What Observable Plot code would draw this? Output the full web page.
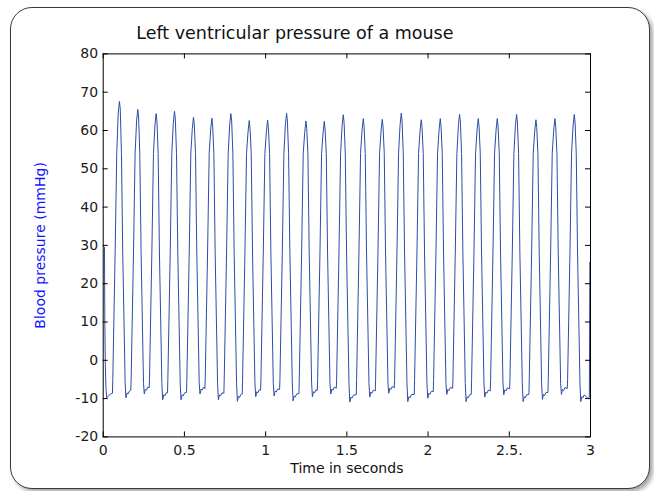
<!DOCTYPE html>
<html>
<head>
<meta charset="utf-8">
<script src="https://cdn.jsdelivr.net/npm/d3@7"></script>
<script src="https://cdn.jsdelivr.net/npm/@observablehq/plot@0.6"></script>
<style>
  html, body { margin: 0; padding: 0; background: #ffffff; }
  body { width: 654px; height: 491px; overflow: hidden; position: relative; font-family: "DejaVu Sans", sans-serif; }
  #box { position: absolute; left: 10px; top: 7px; width: 640px; height: 482px; box-sizing: border-box;
         border: 1px solid #3a3a3a; border-radius: 22px; box-shadow: 3px 3px 4px rgba(0,0,0,0.35); background: #fff; }
  #chart { position: absolute; left: 0; top: 0; }
</style>
</head>
<body>
<div id="box"></div>
<div id="chart"></div>
<script>
// ---- Data ----
const titleText = "Left ventricular pressure of a mouse";
const xLabelText = "Time in seconds";
const yLabelText = "Blood pressure (mmHg)";

const xTicks = [0, 0.5, 1, 1.5, 2, 2.5, 3];
const xTickLabels = ["0", "0.5", "1", "1.5", "2", "2.5.", "3"];
const yTicks = [-20, -10, 0, 10, 20, 30, 40, 50, 60, 70, 80];
const yTickLabels = ["-20", "-10", "0", "10", "20", "30", "40", "50", "60", "70", "80"];

// beat-level readings (time of systolic peak, s; pressures, mmHg)
const peakTimes = [0.100, 0.213, 0.326, 0.439, 0.556, 0.669, 0.786, 0.899, 1.012, 1.129, 1.248, 1.361, 1.478,
                   1.601, 1.718, 1.835, 1.958, 2.075, 2.194, 2.309, 2.426, 2.545, 2.664, 2.781, 2.900];
const peakValues = [67.6, 65.5, 64.4, 65.0, 63.5, 63.2, 64.4, 62.6, 62.7, 64.5, 62.5, 62.4, 64.1,
                    63.1, 62.9, 64.5, 62.8, 63.1, 64.2, 63.1, 63.1, 64.2, 62.8, 63.1, 64.2];
const troughValues = [-9.8, -8.8, -10.3, -10.3, -8.8, -10.3, -10.7, -9.5, -9.3, -10.6, -9.5, -8.8, -10.9,
                      -9.6, -8.6, -10.8, -9.9, -8.9, -10.8, -9.6, -9.0, -10.8, -10.2, -8.9, -10.8];
const endDiastolicValues = [-8.6, -7.8, -7.2, -8.5, -8.4, -7.4, -8.6, -8.8, -7.8, -7.6, -8.7, -7.9, -7.3,
                            -9.0, -8.0, -7.2, -8.9, -8.2, -7.3, -8.9, -8.0, -7.5, -8.9, -8.4, -7.4];

// contour of one beat read from a zoomed spike: time offset from peak (s), reference level, offset (mmHg)
// ref: 0 = absolute value, 1 = relative to peak, 2 = relative to trough, 3 = end-diastolic value
const shapeDt  = [-0.043, -0.041, -0.0265, -0.0166, -0.0074, 0, 0.005, 0.0123, 0.0203, 0.0351, 0.040, 0.047, 0.053, 0.062];
const shapeRef = [3, 0, 0, 0, 1, 1, 1, 0, 0, 0, 2, 2, 2, 2];
const shapeDv  = [0, -5, 28, 54, -3, 0, -2, 54, 28, -6, 0, 1.3, 1.0, 1.8];

// start and end of the recording
const leadInTimes = [0.008, 0.010, 0.013, 0.017, 0.022, 0.034, 0.046];
const leadInValues = [29.5, 10, -1, -7.4, -9.8, -9.2, -8.8];
const leadOutTimes = [2.985, 2.993, 2.996];
const leadOutValues = [-10.0, -9.6, 25.6];

// ---- Build the series ----
const series = [];
leadInTimes.forEach((t, i) => series.push({t, p: leadInValues[i]}));
peakTimes.forEach((tp, b) => {
  shapeDt.forEach((dt, k) => {
    const ref = shapeRef[k];
    const base = ref === 1 ? peakValues[b] : ref === 2 ? troughValues[b] : ref === 3 ? endDiastolicValues[b] : 0;
    series.push({t: tp + dt, p: ref === 3 ? base : base + shapeDv[k]});
  });
});
leadOutTimes.forEach((t, i) => series.push({t, p: leadOutValues[i]}));

const W = 654, H = 491;
const mL = 102.7, mR = 64, mT = 53.4, mB = 54.6;
const innerH = H - mT - mB;
const innerW = W - mL - mR;
const tick = 5;

const chart = Plot.plot({
  width: W,
  height: H,
  marginLeft: mL,
  marginRight: mR,
  marginTop: mT,
  marginBottom: mB,
  x: {domain: [0, 3]},
  y: {domain: [-20, 80]},
  style: {fontFamily: "'DejaVu Sans', sans-serif", fontSize: "14px", background: "transparent", color: "#1a1a1a", overflow: "visible"},
  marks: [
    Plot.line(series, {x: "t", y: "p", stroke: "#2d4ca8", strokeWidth: 1}),
    Plot.frame({stroke: "#000", strokeWidth: 1}),
    // inward tick marks on all four sides
    Plot.ruleX(xTicks, {x: d => d, insetTop: innerH - tick, stroke: "#000"}),
    Plot.ruleX(xTicks, {x: d => d, insetBottom: innerH - tick, stroke: "#000"}),
    Plot.ruleY(yTicks, {y: d => d, insetRight: innerW - tick, stroke: "#000"}),
    Plot.ruleY(yTicks, {y: d => d, insetLeft: innerW - tick, stroke: "#000"}),
    Plot.axisX({ticks: xTicks, tickFormat: (d) => xTickLabels[xTicks.indexOf(d)], tickSize: 0, tickPadding: 8, label: null, fontSize: 14}),
    Plot.axisY({ticks: yTicks, tickFormat: (d) => yTickLabels[yTicks.indexOf(d)], tickSize: 0, tickPadding: 5, label: null, fontSize: 14}),
    Plot.text([titleText], {frameAnchor: "top", lineAnchor: "middle", dx: -52, dy: -21, fontSize: 17.5, fill: "#111"}),
    Plot.text([xLabelText], {frameAnchor: "bottom", lineAnchor: "middle", dy: 32, fontSize: 14, fill: "#111"}),
    Plot.text([yLabelText], {frameAnchor: "left", lineAnchor: "middle", dx: -63, rotate: -90, textAnchor: "middle", fontSize: 14, fill: "#1414ff"})
  ]
});
document.getElementById("chart").appendChild(chart);
</script>
</body>
</html>
